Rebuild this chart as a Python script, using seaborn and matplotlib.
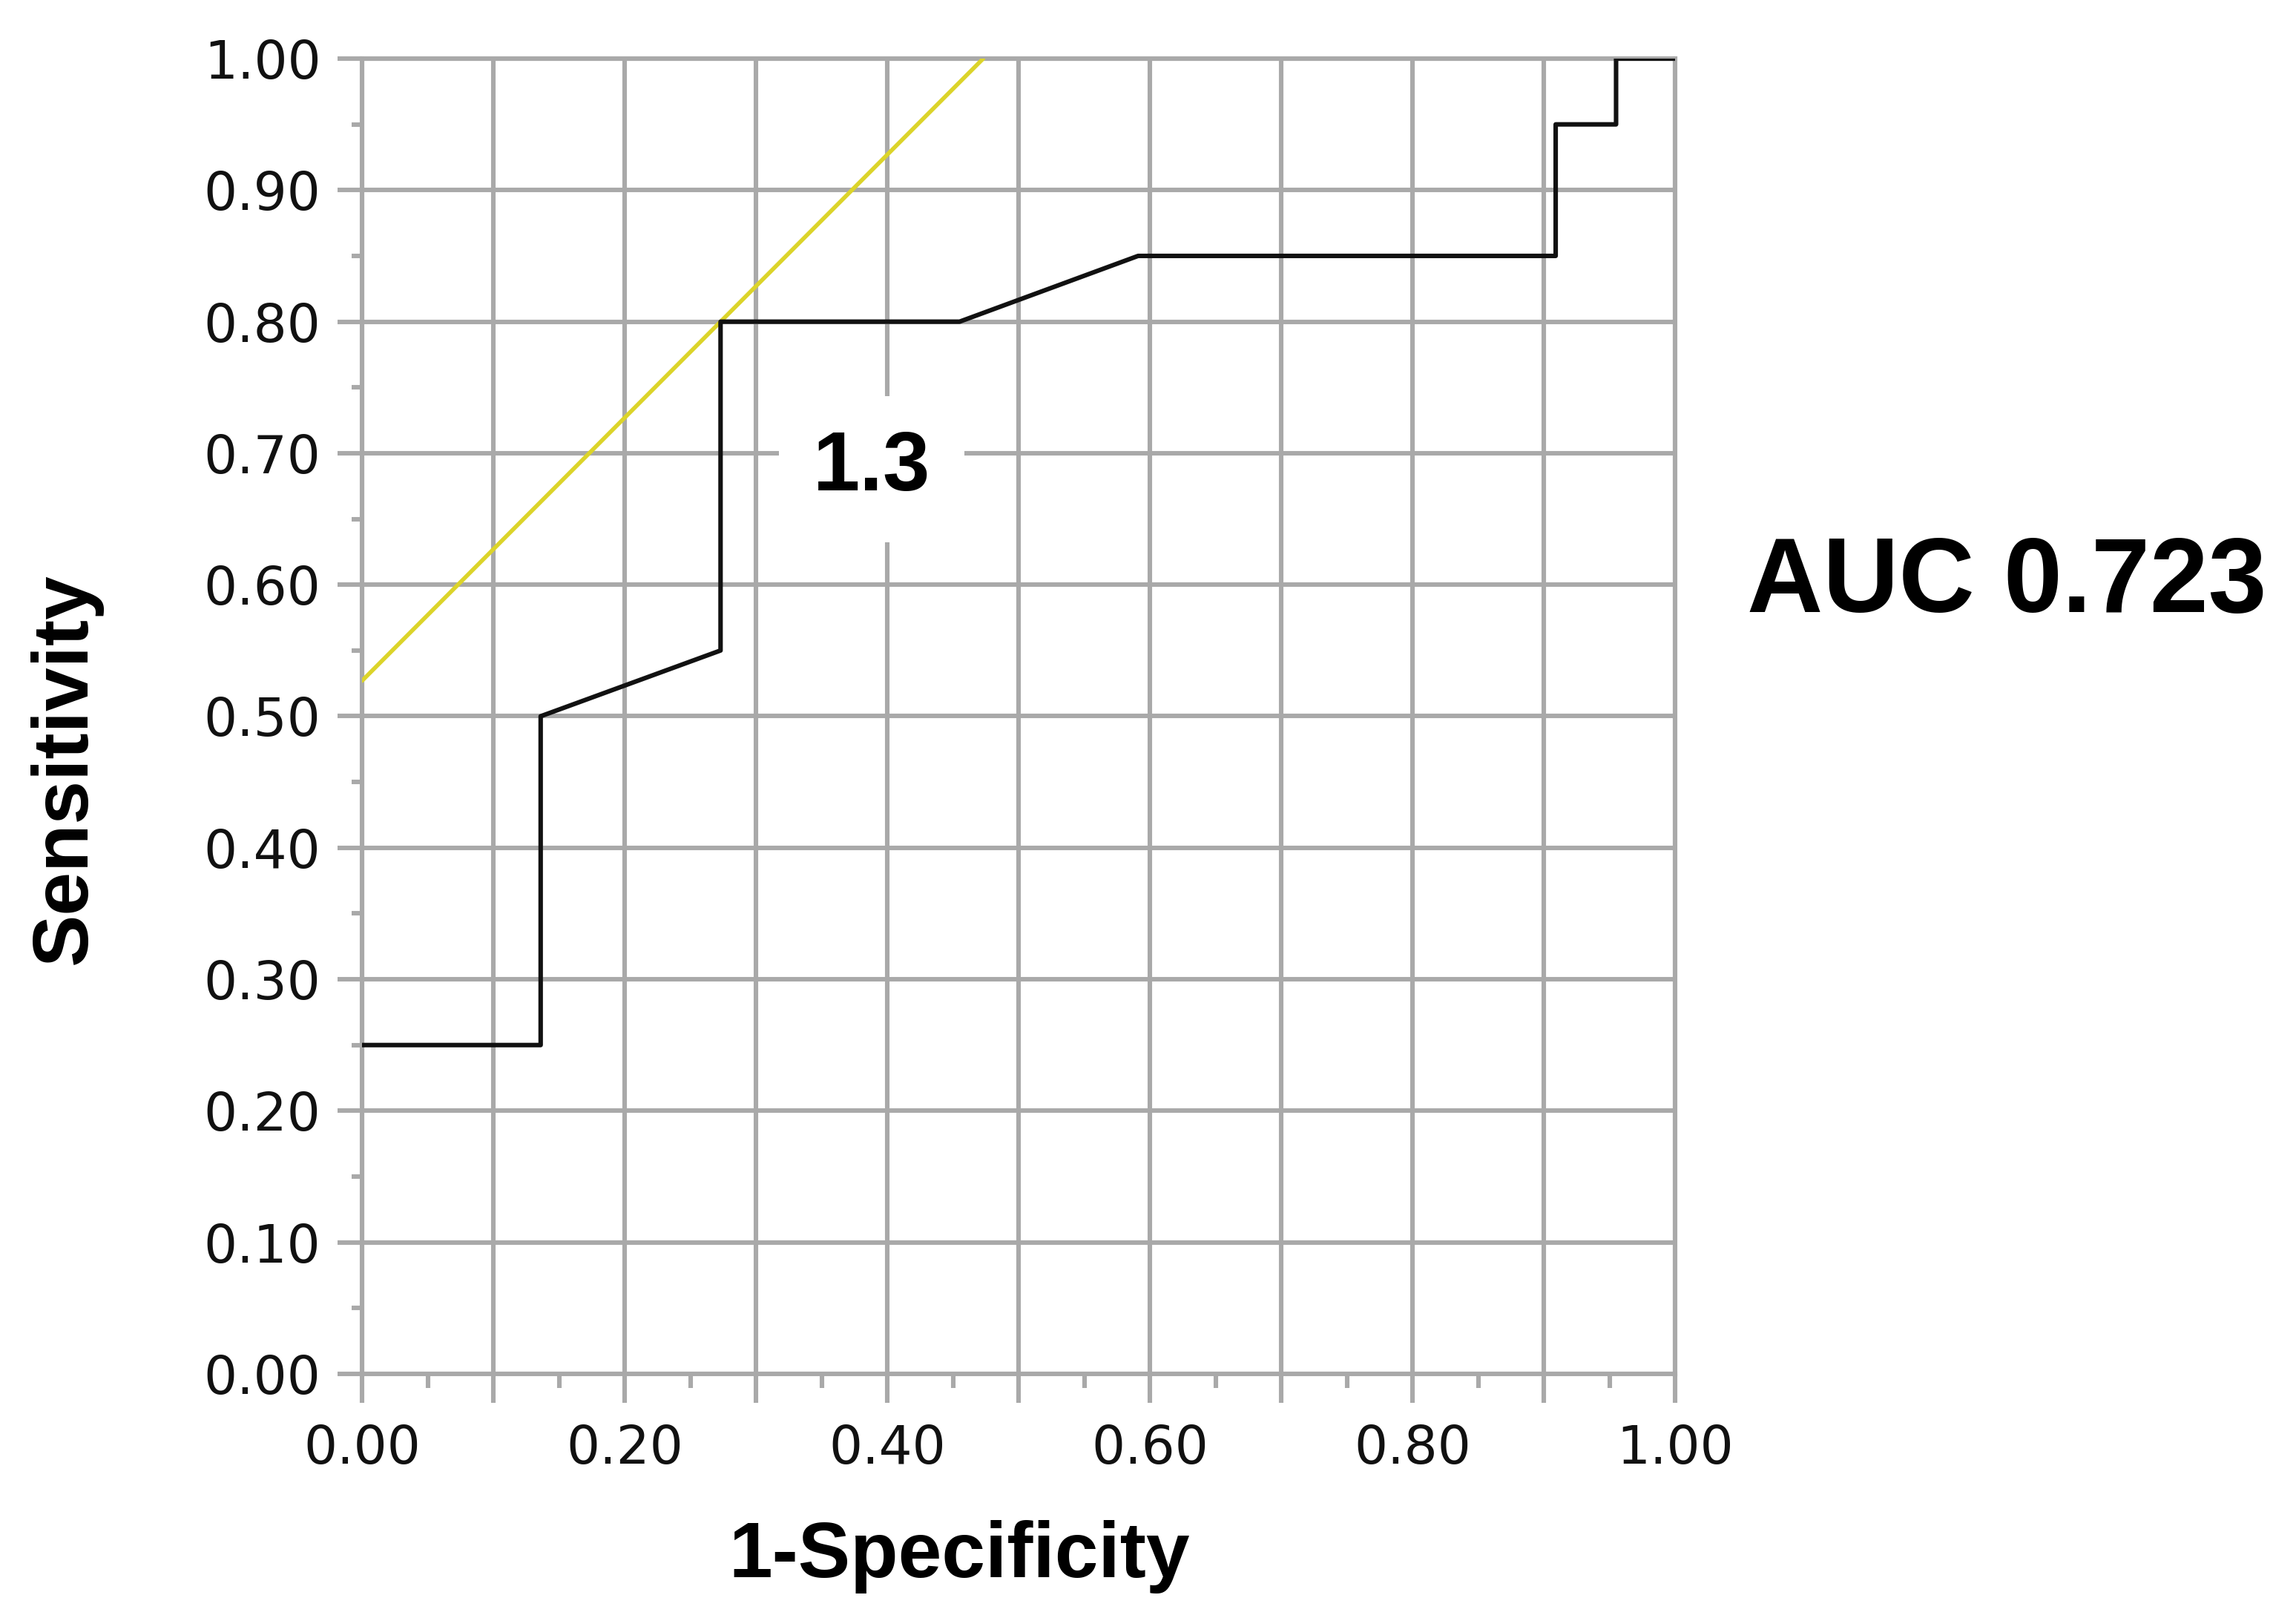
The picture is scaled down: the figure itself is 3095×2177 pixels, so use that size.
import matplotlib
matplotlib.use("Agg")
import matplotlib.pyplot as plt
import numpy as np
import seaborn as sns
from matplotlib.ticker import MultipleLocator

# ROC curve (1-specificity vs sensitivity)
fpr = [0.0, 0.136, 0.136, 0.273, 0.273, 0.455, 0.591, 0.909, 0.909, 0.955, 0.955, 1.0]
tpr = [0.25, 0.25, 0.50, 0.55, 0.80, 0.80, 0.85, 0.85, 0.95, 0.95, 1.0, 1.0]

# 45-degree tangent line through the optimal cutoff
tangent_x = [0.0, 0.473]
tangent_y = [0.527, 1.0]

cutoff_label = "1.3"
cutoff_pos = (0.388, 0.688)
auc_text = "AUC 0.723"

x_ticks = [0.0, 0.1, 0.2, 0.3, 0.4, 0.5, 0.6, 0.7, 0.8, 0.9, 1.0]
x_labels = ["0.00", "", "0.20", "", "0.40", "", "0.60", "", "0.80", "", "1.00"]
y_ticks = [0.0, 0.1, 0.2, 0.3, 0.4, 0.5, 0.6, 0.7, 0.8, 0.9, 1.0]
y_labels = ["0.00", "0.10", "0.20", "0.30", "0.40", "0.50",
            "0.60", "0.70", "0.80", "0.90", "1.00"]

sns.set_style("white")
plt.rcParams["font.family"] = ["DejaVu Sans"]
plt.rcParams["text.color"] = "black"
plt.rcParams["axes.labelcolor"] = "black"

grid_col = "#a9a9a9"
gw = 2.2
bold_font = ["Liberation Sans", "DejaVu Sans"]

fig = plt.figure(figsize=(15.475, 10.885), dpi=200)
ax = fig.add_axes([0.1577, 0.1493, 0.5719, 0.8144])

sns.lineplot(x=tangent_x, y=tangent_y, ax=ax, color="#dcd42a", lw=2.0,
             sort=False, estimator=None, zorder=3)
sns.lineplot(x=fpr, y=tpr, ax=ax, color="#111111", lw=2.2,
             sort=False, estimator=None, zorder=4)

ax.set_xlim(0, 1)
ax.set_ylim(0, 1)
ax.set_xticks(x_ticks)
ax.set_xticklabels(x_labels)
ax.set_yticks(y_ticks)
ax.set_yticklabels(y_labels)
ax.xaxis.set_minor_locator(MultipleLocator(0.05))
ax.yaxis.set_minor_locator(MultipleLocator(0.05))

ax.grid(True, which="major", color=grid_col, lw=gw, zorder=1)
ax.set_axisbelow(True)
for s in ax.spines.values():
    s.set_color(grid_col)
    s.set_linewidth(gw)
    s.set_zorder(1)

ax.tick_params(axis="x", which="major", length=14, width=gw, color=grid_col,
               labelsize=25.5, labelcolor="#111111", pad=10)
ax.tick_params(axis="x", which="minor", length=7, width=gw, color=grid_col)
ax.tick_params(axis="y", which="major", length=12, width=gw, color=grid_col,
               labelsize=25.5, labelcolor="#111111", pad=8)
ax.tick_params(axis="y", which="minor", length=5, width=gw, color=grid_col)
ax.tick_params(bottom=True, left=True, which="both")

ax.set_xlabel("1-Specificity", fontsize=38, fontweight="bold", family=bold_font,
              color="black")
ax.set_ylabel("Sensitivity", fontsize=38, fontweight="bold", family=bold_font,
              color="black")
ax.xaxis.set_label_coords(0.455, -0.111)
ax.yaxis.set_label_coords(-0.198, 0.46)

ax.text(cutoff_pos[0], cutoff_pos[1], cutoff_label, fontsize=41,
        fontweight="bold", family=bold_font, ha="center", va="center",
        color="black", zorder=5,
        bbox=dict(boxstyle="square,pad=0.4", fc="white", ec="none"))

fig.text(0.874, 0.638, auc_text, fontsize=51, fontweight="bold",
         family=bold_font, ha="center", va="center", color="black")

fig.savefig("out.png", dpi=200, facecolor="white")
